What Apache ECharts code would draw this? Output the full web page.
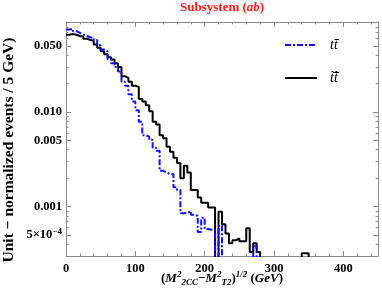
<!DOCTYPE html>
<html><head><meta charset="utf-8">
<script src="https://cdn.jsdelivr.net/npm/echarts@6/dist/echarts.min.js"></script>
<style>html,body{margin:0;padding:0;background:#fff}#c{width:382px;height:296px}</style>
</head><body><div id="c"></div>
<script>
// ---- data (5 GeV bins, left edges at 0,5,10,...) ----
const binWidth = 5;
const seriesNames = ['tt\u0304', 't\u0303t\u0303\u0304'];
const ttbar = [
  0.075, 0.076, 0.072, 0.069, 0.066, 0.064, 0.062, 0.061, 0.058, 0.051,
  0.046, 0.044, 0.036, 0.033, 0.030, 0.027, 0.021, 0.019, 0.0155, 0.013,
  0.0105, 0.0079, 0.0057, 0.0055, 0.0051, 0.0042, 0.0039, 0.0024, 0.0023, 0.0022,
  0.0022, 0.0016, 0.0015, 0.00085, 0.00086, 0.00090, 0.00082, 0.00080, 0.00054, 0.00076,
  0.00058, 0.00057, 0.00057, 0, 0.00063, 0, 0, 0, 0, 0,
  0, 0, 0, 0, 0.00038
];
const stops = [
  0.066, 0.067, 0.066, 0.064, 0.063, 0.060, 0.058, 0.057, 0.052, 0.048,
  0.044, 0.041, 0.038, 0.036, 0.033, 0.030, 0.024, 0.023, 0.021, 0.019,
  0.0185, 0.0138, 0.013, 0.0118, 0.0102, 0.0079, 0.0074, 0.0057, 0.0053, 0.0043,
  0.0038, 0.0033, 0.0029, 0.0020, 0.0027, 0.0023, 0.0015, 0.0015, 0.00125, 0.0011,
  0.0011, 0.00098, 0.00098, 0, 0.00088, 0.00065, 0.00052, 0.00041, 0.00044, 0.00046,
  0.00043, 0.00043, 0.00059, 0.00033, 0.00041, 0.00033, 0, 0, 0, 0,
  0, 0, 0, 0, 0, 0, 0, 0, 0.00032, 0.00032
];
const xTicks = [0, 100, 200, 300, 400];
const yTickValues = [0.0005, 0.001, 0.005, 0.01, 0.05];
const yTickLabels = ['{m|5\u00d710}{s|\u22124}', '0.001', '0.005', '0.010', '0.050'];
const yMinorValues = [0.0003, 0.0004, 0.0006, 0.0007, 0.0008, 0.0009,
  0.002, 0.003, 0.004, 0.006, 0.007, 0.008, 0.009,
  0.02, 0.03, 0.04, 0.06, 0.07, 0.08, 0.09];
const xRange = [0, 450];
const yRange = [0.0003, 0.09];

// ---- build ----
const FLOOR = 1e-6;
const L = v => Math.log10(v);
function toPoints(arr) {
  const pts = arr.map((v, i) => [i * binWidth, L(v > 0 ? v : FLOOR)]);
  pts.push([arr.length * binWidth, L(FLOOR)]);
  return pts;
}
const serif = 'Liberation Serif';
const axisGray = '#8a8a8a';

function yAxisDef(pos, major) {
  return {
    type: 'value', position: pos, min: L(yRange[0]), max: L(yRange[1]),
    axisLine: { show: true, lineStyle: { color: axisGray, width: 1 } },
    splitLine: { show: false },
    axisTick: {
      show: true, inside: true, length: major ? 5 : 2.5,
      lineStyle: { color: axisGray },
      customValues: (major ? yTickValues : yMinorValues).map(L)
    },
    axisLabel: {
      show: pos === 'left' && major, margin: 4,
      customValues: yTickValues.map(L),
      fontFamily: serif, fontWeight: 'bold', fontSize: 12.5, color: '#000',
      formatter: function (val) {
        for (let i = 0; i < yTickValues.length; i++) {
          if (Math.abs(L(yTickValues[i]) - val) < 1e-6) return yTickLabels[i];
        }
        return '';
      },
      rich: {
        m: { fontFamily: serif, fontSize: 12.5, color: '#000' },
        s: { fontFamily: serif, fontSize: 9, fontWeight: 'bold', color: '#000', verticalAlign: 'top', padding: [0, 0, 6, 0] }
      }
    },
    name: (pos === 'left' && major) ? 'Unit \u2212 normalized events / 5 GeV)' : '',
    nameLocation: 'middle', nameRotate: 90, nameGap: 49, nameMoveOverlap: false,
    nameTextStyle: { fontFamily: serif, fontWeight: 'bold', fontSize: 15.5, color: '#000', padding: [0, 22, 0, 0] }
  };
}
function xAxisDef(pos) {
  return {
    type: 'value', position: pos, min: xRange[0], max: xRange[1], interval: 100,
    axisLine: { show: true, lineStyle: { color: axisGray, width: 1 } },
    splitLine: { show: false },
    axisTick: { show: true, inside: true, length: 5, lineStyle: { color: axisGray } },
    minorTick: { show: true, splitNumber: 5, length: 2.5, lineStyle: { color: axisGray } },
    axisLabel: {
      show: pos === 'bottom', margin: 6,
      fontFamily: serif, fontWeight: 'bold', fontSize: 12.5, color: '#000',
      formatter: v => (xTicks.indexOf(v) >= 0 ? String(v) : '')
    },
    name: pos === 'bottom' ? '({i|M}{u|2}{d|2CC}\u2212{i|M}{u|2}{d|T2}){u|1/2} ({i|GeV})' : '',
    nameLocation: 'middle', nameGap: 14, nameMoveOverlap: false,
    nameTextStyle: {
      fontFamily: serif, fontWeight: 'bold', fontSize: 13, color: '#000',
      rich: {
        i: { fontFamily: serif, fontStyle: 'italic', fontWeight: 'bold', fontSize: 13, color: '#000' },
        u: { fontFamily: serif, fontStyle: 'italic', fontWeight: 'bold', fontSize: 9, color: '#000', verticalAlign: 'top', padding: [0, 0, 8, 0] },
        d: { fontFamily: serif, fontStyle: 'italic', fontWeight: 'bold', fontSize: 9, color: '#000', verticalAlign: 'bottom', padding: [6, 0, 0, 0] }
      }
    }
  };
}

const chart = echarts.init(document.getElementById('c'), null, { renderer: 'canvas' });
chart.setOption({
  animation: false,
  backgroundColor: '#fff',
  title: {
    text: 'Subsystem ({i|ab})', left: 180, top: 1, padding: 0,
    textStyle: {
      fontFamily: serif, fontWeight: 'bold', fontSize: 13, color: '#ff1a1a',
      rich: { i: { fontFamily: serif, fontStyle: 'italic', fontWeight: 'bold', fontSize: 13, color: '#ff1a1a' } }
    }
  },
  grid: { left: 66, right: 4, top: 22, bottom: 40, containLabel: false, outerBoundsMode: 'none' },
  legend: {
    orient: 'vertical', left: 284, top: 38, padding: 0, itemWidth: 32, itemHeight: 14, itemGap: 19,
    itemStyle: { color: 'rgba(0,0,0,0)', borderColor: 'rgba(0,0,0,0)', borderWidth: 0 },
    textStyle: { fontFamily: serif, fontStyle: 'italic', fontSize: 14, color: '#000', padding: [0, 0, 0, 8] },
    data: seriesNames
  },
  xAxis: [xAxisDef('bottom'), xAxisDef('top')],
  yAxis: [yAxisDef('left', true), yAxisDef('left', false), yAxisDef('right', true), yAxisDef('right', false)],
  series: [
    {
      name: seriesNames[0], type: 'line', step: 'end', symbol: 'none', clip: true,
      xAxisIndex: 0, yAxisIndex: 0,
      lineStyle: { color: '#1010ff', width: 2, type: [6, 2, 2, 2] },
      itemStyle: { color: '#1010ff' },
      data: toPoints(ttbar), z: 3
    },
    {
      name: seriesNames[1], type: 'line', step: 'end', symbol: 'none', clip: true,
      xAxisIndex: 0, yAxisIndex: 0,
      lineStyle: { color: '#000', width: 2 },
      itemStyle: { color: '#000' },
      data: toPoints(stops), z: 2
    }
  ]
});
</script></body></html>
